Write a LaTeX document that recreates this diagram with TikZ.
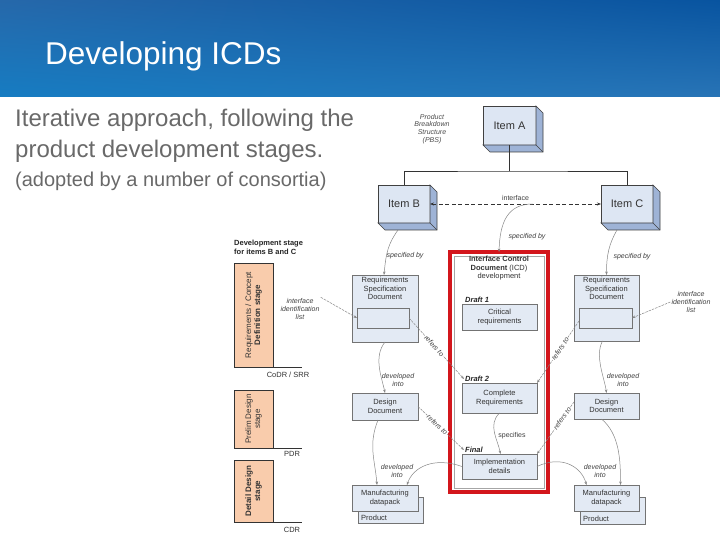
\documentclass[tikz,border=0pt]{standalone}
\usepackage{fontspec}
\setmainfont{Liberation Sans}
\usetikzlibrary{arrows.meta,shadows,shadings}

\definecolor{headUL}{RGB}{38,104,170}
\definecolor{headUR}{RGB}{8,84,160}
\definecolor{headLL}{RGB}{22,124,194}
\definecolor{headLR}{RGB}{40,116,182}
\definecolor{bodygray}{RGB}{105,105,105}
\definecolor{docfill}{RGB}{227,234,244}
\definecolor{itemfill}{RGB}{221,230,243}
\definecolor{itemside}{RGB}{158,179,214}
\definecolor{icdred}{RGB}{211,22,28}
\definecolor{stagefill}{RGB}{249,204,172}
\definecolor{linkgray}{RGB}{135,135,135}

\begin{document}
\begin{tikzpicture}[
    x=1pt, y=-1pt,
    item/.style={draw=black!75, fill=itemfill, line width=0.6pt, inner sep=0pt, outer sep=0pt,
        minimum width=53pt, minimum height=39pt, anchor=north west,
        font=\fontsize{11}{13}\selectfont, text=black!80},
    itemside/.style={draw=black!75, fill=itemside, line width=0.6pt},
    box/.style={draw=black!55, fill=docfill, line width=0.5pt, inner sep=0pt, outer sep=0pt,
        anchor=north west, align=center, text=black!80, font=\fontsize{7.5}{8.5}\selectfont},
    doc/.style={box, drop shadow={shadow xshift=1.1pt, shadow yshift=-1.1pt, opacity=1, fill=black!70}},
    doctxt/.style={inner sep=1pt, align=center, text=black!80, font=\fontsize{7.5}{8.5}\selectfont},
    draft/.style={inner sep=1pt, anchor=south west, text=black!85,
        font=\fontsize{7.5}{8.5}\selectfont\bfseries\itshape},
    stage/.style={draw=black!80, fill=stagefill, line width=0.6pt, inner sep=0pt, outer sep=0pt,
        minimum width=39pt, anchor=north west},
    stagetxt/.style={rotate=90, align=center, text=black!80, font=\fontsize{8}{9}\selectfont},
    stageedge/.style={draw=black!80, line width=0.6pt},
    milestone/.style={inner sep=1pt, text=black!80, font=\fontsize{7.5}{8.5}\selectfont},
    lab/.style={inner sep=1pt, align=center, text=black!75, font=\fontsize{7}{8}\selectfont\itshape},
    reflab/.style={lab, sloped, fill=white, inner sep=0.5pt},
    link/.style={draw=linkgray, line width=0.5pt, -{Stealth[length=3.5pt, width=2.6pt]}},
    refer/.style={link, dash pattern=on 2.5pt off 1pt},
    iface/.style={draw=black!80, line width=0.7pt, dash pattern=on 4pt off 2.5pt,
        {Stealth[length=4pt, width=3pt]}-{Stealth[length=4pt, width=3pt]}},
    bus/.style={draw=black!80, line width=0.8pt}
]

    \fill[white] (0,0) rectangle (720,540);
    \useasboundingbox (0,0) rectangle (720,540);

    % ==========================================
    % HEADER AND INTRO TEXT
    % ==========================================
    \shade[upper left=headUL, upper right=headUR, lower left=headLL, lower right=headLR]
        (0,0) rectangle (720,97);
    \node[anchor=base west, inner sep=0pt, text=white,
        font=\fontsize{31.5}{36}\selectfont] (title) at (45,65) {Developing ICDs};
    \node[anchor=base west, inner sep=0pt, text=bodygray,
        font=\fontsize{24}{31}\selectfont] (introA) at (15,127) {Iterative approach, following the};
    \node[anchor=base west, inner sep=0pt, text=bodygray,
        font=\fontsize{24}{31}\selectfont] (introB) at (15,158) {product development stages.};
    \node[anchor=base west, inner sep=0pt, text=bodygray,
        font=\fontsize{20}{24}\selectfont] (consortia) at (15,187)
        {(adopted by a number of consortia)};

    % ==========================================
    % PRODUCT BREAKDOWN (Items A, B, C)
    % ==========================================
    \node[lab, font=\fontsize{7}{7.7}\selectfont\itshape, text=black!70] (pbs) at (432,129)
        {Product\\Breakdown\\Structure\\(PBS)};

    \node[item] (itemA) at (483,106) {Item A};
    \node[item, minimum width=52pt, minimum height=38pt] (itemB) at (378,185) {Item B};
    \node[item, minimum width=52pt, minimum height=38pt] (itemC) at (601,185) {Item C};

    % 3D depth faces
    \foreach \itm in {itemA,itemB,itemC} {
        \draw[itemside] (\itm.north east) -- ++(7,7) |- ([shift={(7,7)}]\itm.south west)
            -- (\itm.south west) -- (\itm.south east) -- cycle;
        \draw[itemside] (\itm.south east) -- ++(7,7);
    }

    \coordinate (busA) at (itemA.south |- 0,171);
    \draw[bus] (itemA.south) -- (busA);
    \draw[bus] (itemB.north) |- (busA) -| (itemC.north);

    \draw[iface] (itemB.east) -- (itemC.west) coordinate[pos=0.6] (ifacetap)
        node[lab, font=\fontsize{7}{8}\selectfont, midway, above=2pt] (ifacelab) {interface};

    % ==========================================
    % ICD DEVELOPMENT (red frame)
    % ==========================================
    \node[draw=icdred, line width=4pt, minimum width=98pt, minimum height=240pt,
        inner sep=0pt, outer sep=0pt, anchor=north west] (icd) at (450,252) {};
    \draw[black!35, line width=0.4pt] ([shift={(4,4)}]icd.north west)
        rectangle ([shift={(-4,-4)}]icd.south east);
    \node[doctxt, anchor=north] (icdtitle) at ([yshift=-3pt]icd.north)
        {\textbf{Interface Control}\\\textbf{Document} (ICD)\\development};

    \node[doc, minimum width=75pt, minimum height=26pt] (crit) at (462,304) {Critical\\requirements};
    \node[draft] (draftA) at ([xshift=2pt]crit.north west) {Draft 1};
    \node[doc, minimum width=75pt, minimum height=30pt] (compl) at (462,383) {Complete\\Requirements};
    \node[draft] (draftB) at ([xshift=2pt]compl.north west) {Draft 2};
    \node[doc, minimum width=75pt, minimum height=25pt] (impl) at (462,454) {Implementation\\details};
    \node[draft] (draftC) at ([xshift=2pt]impl.north west) {Final};

    \draw[link] (compl.south) .. controls +(-12,12) and +(-3,-15) .. ([xshift=1pt]impl.north);
    \node[lab, font=\fontsize{7}{8}\selectfont] (speclab) at (512,436) {specifies};

    % ==========================================
    % LEFT COLUMN (Item B documents)
    % ==========================================
    \node[doc, minimum width=66pt, minimum height=67pt] (reqL) at (352,275) {};
    \node[doctxt, anchor=north] (reqLtxt) at ([yshift=-1pt]reqL.north)
        {Requirements\\Specification\\Document};
    \node[box, minimum width=52pt, minimum height=20pt] (reqLin) at (357,308) {};
    \node[doc, minimum width=66pt, minimum height=27pt] (desL) at (352,393) {Design\\Document};
    \node[doc, minimum width=65pt, minimum height=26pt] (prodL) at (358,497) {};
    \node[doctxt, anchor=south west] (prodLtxt) at ([shift={(2,-1)}]prodL.south west) {Product};
    \node[doc, minimum width=66pt, minimum height=26pt] (manL) at (352,485) {Manufacturing\\datapack};

    % ==========================================
    % RIGHT COLUMN (Item C documents)
    % ==========================================
    \node[doc, minimum width=65pt, minimum height=66pt] (reqR) at (574,275) {};
    \node[doctxt, anchor=north] (reqRtxt) at ([yshift=-1pt]reqR.north)
        {Requirements\\Specification\\Document};
    \node[box, minimum width=53pt, minimum height=20pt] (reqRin) at (579,308) {};
    \node[doc, minimum width=65pt, minimum height=26pt] (desR) at (574,393) {Design\\Document};
    \node[doc, minimum width=65pt, minimum height=27pt] (prodR) at (580,497) {};
    \node[doctxt, anchor=south west] (prodRtxt) at ([shift={(2,-1)}]prodR.south west) {Product};
    \node[doc, minimum width=65pt, minimum height=26pt] (manR) at (574,485) {Manufacturing\\datapack};

    % ==========================================
    % LINKS (specified by / developed into / refers to)
    % ==========================================
    \draw[link] ([shift={(-6,7)}]itemB.south) .. controls +(-10,14) and +(2,-22) .. ([xshift=-1pt]reqL.north);
    \node[lab] (specL) at (405,256) {specified by};
    \draw[link] ([shift={(-10,7)}]itemC.south) .. controls +(-8,14) and +(0,-20) .. (reqR.north);
    \node[lab] (specR) at (632,257) {specified by};
    \draw[link] (ifacetap) .. controls +(-25,0) and +(1,-30) .. (icd.north);
    \node[lab] (specM) at (527,237) {specified by};

    \draw[link] (reqL.south) .. controls +(-12,15) and +(-3,-15) .. (desL.north);
    \node[lab] (devLa) at (398,380) {developed\\into};
    \draw[link] ([xshift=-7pt]desL.south) .. controls +(-10,25) and +(-2,-25) .. ([xshift=-8pt]manL.north);
    \draw[link] (impl.west) .. controls +(-28,-10) and +(6,-18) .. ([xshift=22pt]manL.north);
    \node[lab] (devLb) at (397,471) {developed\\into};

    \draw[link] ([xshift=-4pt]reqR.south) .. controls +(-8,15) and +(-2,-15) .. (desR.north);
    \node[lab] (devRa) at (623,380) {developed\\into};
    \draw[link] ([xshift=-5pt]desR.south) .. controls +(18,15) and +(0,-25) .. ([xshift=14pt]manR.north);
    \draw[link] (impl.east) .. controls +(25,-12) and +(-5,-18) .. ([xshift=-20pt]manR.north);
    \node[lab] (devRb) at (600,471) {developed\\into};

    % refers to (label sits on the line)
    \draw[refer] (reqLin.east) -- (draftB.west) node[reflab, pos=0.46] (refLa) {refers to};
    \draw[refer] (desL.east) -- (draftC.west) node[reflab, pos=0.42] (refLb) {refers to};
    \draw[refer] ([yshift=-3pt]reqRin.west) -- (compl.north east) node[reflab, pos=0.45] (refRa) {refers to};
    \draw[refer] ([yshift=4pt]desR.west) -- (impl.north east) node[reflab, pos=0.32] (refRb) {refers to};

    \node[lab] (iilL) at (300,309) {interface\\identification\\list};
    \draw[refer] (iilL.north east) -- (reqLin.west);
    \node[lab] (iilR) at (691,302) {interface\\identification\\list};
    \draw[refer] (iilR.west) -- (reqRin.east);

    % ==========================================
    % DEVELOPMENT STAGES (left)
    % ==========================================
    \node[anchor=north west, inner sep=0pt, align=left, text=black!85,
        font=\fontsize{7.5}{9}\selectfont\bfseries] (devhead) at (234,240)
        {Development stage\\for items B and C};

    \node[stage, minimum height=104pt] (stageA) at (234,263) {};
    \node[stagetxt] (stageAtxt) at (stageA.center) {Requirements / Concept\\\textbf{Definition stage}};
    \node[stage, minimum height=58pt] (stageB) at (234,390) {};
    \node[stagetxt] (stageBtxt) at (stageB.center) {Prelim Design\\stage};
    \node[stage, minimum height=62pt] (stageC) at (234,460) {};
    \node[stagetxt] (stageCtxt) at (stageC.center) {\textbf{Detail Design}\\\textbf{stage}};

    % Milestone reviews
    \coordinate (msAend) at (302,367);
    \coordinate (msBend) at (302,448);
    \coordinate (msCend) at (302,522);
    \draw[stageedge] (stageA.south west) -- (msAend);
    \draw[stageedge] (stageB.south west) -- (msBend);
    \draw[stageedge] (stageC.south west) -- (msCend);
    \node[milestone] (msA) at (288,375) {CoDR / SRR};
    \node[milestone] (msB) at (292,454) {PDR};
    \node[milestone] (msC) at (292,530) {CDR};

\end{tikzpicture}
\end{document}
